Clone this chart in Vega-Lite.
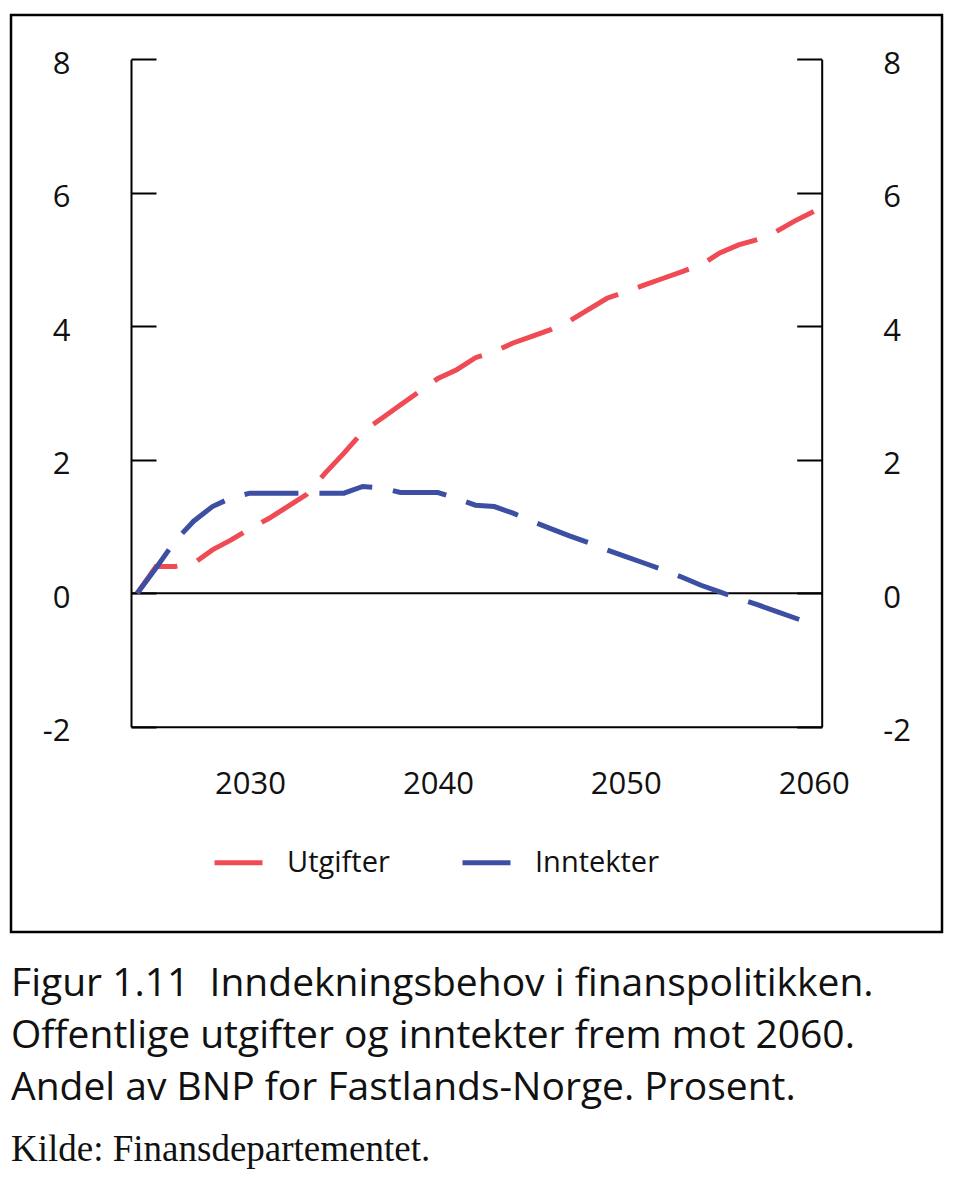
{
  "$schema": "https://vega.github.io/schema/vega-lite/v6.json",
  "width": 931,
  "height": 917,
  "autosize": {"type": "none"},
  "padding": {"left": 11, "top": 15, "right": 18, "bottom": 260},
  "background": "white",
  "config": {
    "view": {"stroke": "black", "strokeWidth": 2.5},
    "axis": {"labelColor": "#111111", "labelFont": "Open Sans", "labelFontSize": 31, "domainColor": "black", "domainWidth": 2, "tickColor": "black", "tickWidth": 2, "grid": false, "title": null}
  },
  "title": {
    "text": ["Figur 1.11\u00a0 Inndekningsbehov i finanspolitikken.", "Offentlige utgifter og inntekter frem mot 2060.", "Andel av BNP for Fastlands-Norge. Prosent."],
    "subtitle": "Kilde: Finansdepartementet.",
    "orient": "bottom",
    "anchor": "start",
    "frame": "group",
    "font": "Open Sans",
    "fontSize": 39,
    "fontWeight": "normal",
    "lineHeight": 52,
    "color": "#111111",
    "subtitleFont": "Liberation Serif",
    "subtitleFontSize": 37,
    "subtitleColor": "#111111",
    "subtitlePadding": 24,
    "offset": 33
  },
  "data": {
    "values": [
      {"year": 2024, "serie": "Utgifter", "value": 0},
      {"year": 2025, "serie": "Utgifter", "value": 0.4},
      {"year": 2026, "serie": "Utgifter", "value": 0.4},
      {"year": 2027, "serie": "Utgifter", "value": 0.45},
      {"year": 2028, "serie": "Utgifter", "value": 0.65},
      {"year": 2029, "serie": "Utgifter", "value": 0.8},
      {"year": 2030, "serie": "Utgifter", "value": 0.97},
      {"year": 2031, "serie": "Utgifter", "value": 1.12},
      {"year": 2032, "serie": "Utgifter", "value": 1.3},
      {"year": 2033, "serie": "Utgifter", "value": 1.48},
      {"year": 2034, "serie": "Utgifter", "value": 1.8},
      {"year": 2035, "serie": "Utgifter", "value": 2.1},
      {"year": 2036, "serie": "Utgifter", "value": 2.42},
      {"year": 2037, "serie": "Utgifter", "value": 2.62},
      {"year": 2038, "serie": "Utgifter", "value": 2.82},
      {"year": 2039, "serie": "Utgifter", "value": 3.02},
      {"year": 2040, "serie": "Utgifter", "value": 3.22},
      {"year": 2041, "serie": "Utgifter", "value": 3.35},
      {"year": 2042, "serie": "Utgifter", "value": 3.53},
      {"year": 2043, "serie": "Utgifter", "value": 3.62},
      {"year": 2044, "serie": "Utgifter", "value": 3.75},
      {"year": 2045, "serie": "Utgifter", "value": 3.85},
      {"year": 2046, "serie": "Utgifter", "value": 3.95},
      {"year": 2047, "serie": "Utgifter", "value": 4.08},
      {"year": 2048, "serie": "Utgifter", "value": 4.25},
      {"year": 2049, "serie": "Utgifter", "value": 4.42},
      {"year": 2050, "serie": "Utgifter", "value": 4.52},
      {"year": 2051, "serie": "Utgifter", "value": 4.62},
      {"year": 2052, "serie": "Utgifter", "value": 4.72},
      {"year": 2053, "serie": "Utgifter", "value": 4.82},
      {"year": 2054, "serie": "Utgifter", "value": 4.92},
      {"year": 2055, "serie": "Utgifter", "value": 5.1},
      {"year": 2056, "serie": "Utgifter", "value": 5.22},
      {"year": 2057, "serie": "Utgifter", "value": 5.3},
      {"year": 2058, "serie": "Utgifter", "value": 5.42},
      {"year": 2059, "serie": "Utgifter", "value": 5.58},
      {"year": 2060, "serie": "Utgifter", "value": 5.72},
      {"year": 2024, "serie": "Inntekter", "value": 0},
      {"year": 2025, "serie": "Inntekter", "value": 0.38},
      {"year": 2026, "serie": "Inntekter", "value": 0.78},
      {"year": 2027, "serie": "Inntekter", "value": 1.08},
      {"year": 2028, "serie": "Inntekter", "value": 1.3},
      {"year": 2029, "serie": "Inntekter", "value": 1.43},
      {"year": 2030, "serie": "Inntekter", "value": 1.5},
      {"year": 2031, "serie": "Inntekter", "value": 1.5},
      {"year": 2032, "serie": "Inntekter", "value": 1.5},
      {"year": 2033, "serie": "Inntekter", "value": 1.5},
      {"year": 2034, "serie": "Inntekter", "value": 1.5},
      {"year": 2035, "serie": "Inntekter", "value": 1.5},
      {"year": 2036, "serie": "Inntekter", "value": 1.6},
      {"year": 2037, "serie": "Inntekter", "value": 1.58},
      {"year": 2038, "serie": "Inntekter", "value": 1.51},
      {"year": 2039, "serie": "Inntekter", "value": 1.51},
      {"year": 2040, "serie": "Inntekter", "value": 1.51},
      {"year": 2041, "serie": "Inntekter", "value": 1.42},
      {"year": 2042, "serie": "Inntekter", "value": 1.32},
      {"year": 2043, "serie": "Inntekter", "value": 1.3},
      {"year": 2044, "serie": "Inntekter", "value": 1.2},
      {"year": 2045, "serie": "Inntekter", "value": 1.08},
      {"year": 2046, "serie": "Inntekter", "value": 0.97},
      {"year": 2047, "serie": "Inntekter", "value": 0.86},
      {"year": 2048, "serie": "Inntekter", "value": 0.76},
      {"year": 2049, "serie": "Inntekter", "value": 0.65},
      {"year": 2050, "serie": "Inntekter", "value": 0.55},
      {"year": 2051, "serie": "Inntekter", "value": 0.45},
      {"year": 2052, "serie": "Inntekter", "value": 0.35},
      {"year": 2053, "serie": "Inntekter", "value": 0.24},
      {"year": 2054, "serie": "Inntekter", "value": 0.12},
      {"year": 2055, "serie": "Inntekter", "value": 0.02},
      {"year": 2056, "serie": "Inntekter", "value": -0.08},
      {"year": 2057, "serie": "Inntekter", "value": -0.17},
      {"year": 2058, "serie": "Inntekter", "value": -0.27},
      {"year": 2059, "serie": "Inntekter", "value": -0.37},
      {"year": 2060, "serie": "Inntekter", "value": -0.47}
    ]
  },
  "resolve": {"scale": {"y": "shared", "x": "shared"}, "axis": {"y": "independent"}},
  "layer": [
    {
      "data": {"values": [{"zero": 0}]},
      "mark": {"type": "rule", "color": "black", "strokeWidth": 2},
      "encoding": {
        "y": {
          "field": "zero", "type": "quantitative",
          "scale": {"domain": [-2, 8], "range": [711.8, 44.3], "nice": false, "zero": false},
          "axis": {"orient": "left", "values": [-2, 0, 2, 4, 6, 8], "labelExpr": "'' + datum.value", "offset": -120, "tickSize": -25, "labelPadding": 86, "labelOffset": 5, "labelAlign": "right"}
        },
        "x": {
          "datum": 2023.667, "type": "quantitative",
          "scale": {"domain": [2023.667, 2060.44], "range": [120, 811], "nice": false, "zero": false},
          "axis": {"orient": "bottom", "values": [2030, 2040, 2050, 2060], "format": "d", "ticks": false, "offset": -205.2, "labelBaseline": "middle", "labelPadding": 58, "labelFlush": false}
        },
        "x2": {"datum": 2060.44}
      }
    },
    {
      "mark": {"type": "line", "strokeWidth": 5, "strokeDash": [54, 21], "strokeCap": "butt"},
      "encoding": {
        "x": {
          "field": "year", "type": "quantitative",
          "scale": {"domain": [2023.667, 2060.44], "range": [120, 811], "nice": false, "zero": false},
          "axis": {"orient": "bottom", "values": [2030, 2040, 2050, 2060], "format": "d", "ticks": false, "offset": -205.2, "labelBaseline": "middle", "labelPadding": 58, "labelFlush": false}
        },
        "y": {
          "field": "value", "type": "quantitative",
          "scale": {"domain": [-2, 8], "range": [711.8, 44.3], "nice": false, "zero": false},
          "axis": {"orient": "right", "values": [-2, 0, 2, 4, 6, 8], "labelExpr": "'' + datum.value", "offset": -120.3, "tickSize": -25, "labelPadding": 86, "labelOffset": 5, "labelAlign": "left"}
        },
        "color": {
          "field": "serie", "type": "nominal",
          "scale": {"domain": ["Utgifter", "Inntekter"], "range": ["#f04b55", "#3c4fa3"]},
          "legend": {"orient": "none", "legendX": 201, "legendY": 821, "direction": "horizontal", "title": null, "symbolType": "stroke", "symbolSize": 2304, "symbolStrokeWidth": 5, "symbolDash": [1000, 0], "labelFont": "Open Sans", "labelFontSize": 29, "labelColor": "#111111", "labelOffset": 22, "columnPadding": 62, "padding": 0}
        }
      }
    }
  ]
}
